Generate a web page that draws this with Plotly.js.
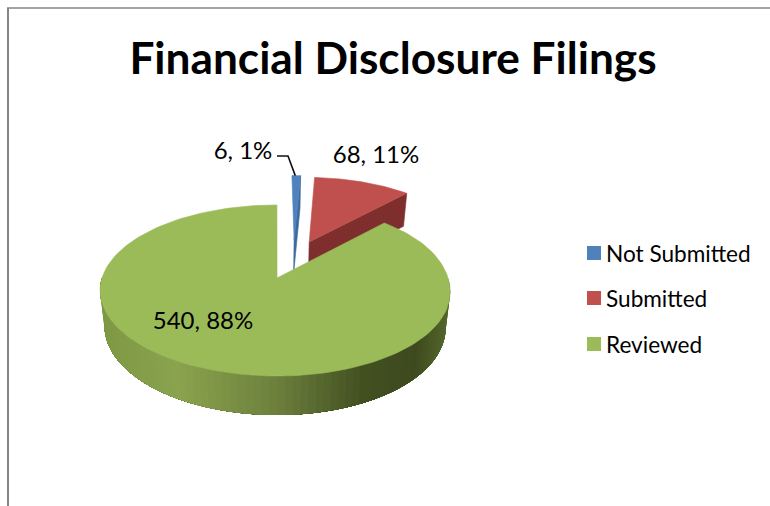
<!DOCTYPE html>
<html>
<head>
<meta charset="utf-8">
<script src="https://cdn.plot.ly/plotly-3.0.1.min.js"></script>
<style>html,body{margin:0;padding:0;background:#fff}#c{width:770px;height:506px}</style>
</head>
<body>
<div id="c"></div>
<script>
const categories = ['Not Submitted', 'Submitted', 'Reviewed'];
const filings = [6, 68, 540];
const percents = ['1%', '11%', '88%'];
const chartTitle = 'Financial Disclosure Filings';

const topColors = ['#4f81bd', '#c0504d', '#9bbb59'];
const wallColors = ['#3c6a9f', '#7e2f2d', '#6b7f3c'];
const FONT = 'Lato, Carlito, Calibri, sans-serif';

// Tilted-disc projection: unit-disc (u, v) to axis coordinates
const X0 = 276, Y0 = 278, SX = 173, SY = 83.7, PERSP = 0.146;
const skew = u => u < 0 ? 1.012 * u : u - 1.9 * Math.pow(u, 8) / SX * 1;
const project = (u, v) => [X0 + (SX * skew(u) - 0) / (1 + PERSP * v) - (u > 0 ? 1.9 * Math.pow(u, 8) : 0) + (u > 0 ? 1.9 * Math.pow(u, 8) / (1 + PERSP * v) : 0), Y0 - SY * v / (1 + PERSP * v)];
const depth = v => v < 0 ? 34.5 - 4.5 * v : 34.5 - 1.3 * v;
const lower = (u, v) => {
  const p = project(u, v);
  return [X0 + (p[0] - X0) * 0.975, p[1] + depth(v)];
};
// Exploded offset of each slice on the disc
const offsets = [[0.112, 0.49], [0.205, 0.46], [0.006, 0]];

const total = filings.reduce((a, b) => a + b, 0);
const angles = [];
let run = 0;
filings.forEach(v => { angles.push([run / total * 2 * Math.PI, (run + v) / total * 2 * Math.PI]); run += v; });

const rim = (i, t) => [offsets[i][0] + Math.sin(t), offsets[i][1] + Math.cos(t)];
function arc(i, a, b, n) {
  const out = [];
  for (let k = 0; k <= n; k++) out.push(rim(i, a + (b - a) * k / n));
  return out;
}
function poly(points, color, extra) {
  return Object.assign({
    type: 'scatter', mode: 'lines', x: points.map(p => p[0]), y: points.map(p => p[1]),
    fill: 'toself', fillcolor: color, line: {color: color, width: 0.6},
    hoverinfo: 'skip', showlegend: false
  }, extra || {});
}
function topFace(i) {
  const pts = [offsets[i]].concat(arc(i, angles[i][0], angles[i][1], 160));
  pts.push(offsets[i]);
  return poly(pts.map(p => project(p[0], p[1])), topColors[i], {
    hoverinfo: 'text',
    text: categories[i] + ': ' + filings[i] + ', ' + percents[i]
  });
}
function cutWall(i, t, color) {
  const o = offsets[i], r = rim(i, t);
  return poly([project(o[0], o[1]), project(r[0], r[1]), lower(r[0], r[1]), lower(o[0], o[1]), project(o[0], o[1])], color);
}

// Shading of the green outer wall, sampled left to right across the visible rim
const shadeStops = [[0, [126, 152, 68]], [0.22, [138, 163, 78]], [0.5, [108, 128, 60]], [0.75, [66, 80, 33]], [0.9, [62, 74, 30]], [1, [84, 104, 44]]];
function shade(f) {
  for (let k = 1; k < shadeStops.length; k++) {
    if (f <= shadeStops[k][0]) {
      const a = shadeStops[k - 1], b = shadeStops[k], m = (f - a[0]) / (b[0] - a[0]);
      return 'rgb(' + a[1].map((c, j) => Math.round(c + (b[1][j] - c) * m)).join(',') + ')';
    }
  }
  return 'rgb(84,104,44)';
}

const traces = [];
// Blue slice
traces.push(cutWall(0, angles[0][1], wallColors[0]));
traces.push(topFace(0));
// Red slice
traces.push(cutWall(1, angles[1][1], wallColors[1]));
traces.push(topFace(1));
// Green outer wall: overlapping strips, painted from right to left, so no seams show
const N = 80, A = 1.25 * Math.PI / 2 * 0.8, B = 2 * Math.PI - A;
for (let k = 0; k < N; k++) {
  const a = A + (B - A) * k / N, b = B;
  const r1 = rim(2, a);
  const pts = arc(2, a, b, 90);
  const top = pts.map(p => project(p[0], p[1]));
  const bottom = pts.slice().reverse().map(p => lower(p[0], p[1]));
  const mid = a + (B - A) / N / 2;
  const xMid = project(Math.sin(mid), Math.cos(mid))[0];
  const f = Math.min(1, Math.max(0, (xMid - 100) / 350));
  const closed = top.concat(bottom, [project(r1[0], r1[1])]);
  traces.push(poly(closed, shade(f), {mode: 'none'}));
}
// Green top face
traces.push(topFace(2));

// Leader line for the smallest slice
const blueRim = rim(0, (angles[0][0] + angles[0][1]) / 2);
const blueTop = project(blueRim[0], blueRim[1]);
traces.push({type: 'scatter', mode: 'lines', x: [277, 288, blueTop[0] - 1], y: [156, 156, blueTop[1]],
  line: {color: '#111', width: 1.6}, hoverinfo: 'skip', showlegend: false});

// Data labels
const labelX = [243, 376, 203], labelY = [153, 157, 323];
traces.push({type: 'scatter', mode: 'text', x: labelX, y: labelY,
  text: filings.map((v, i) => v + ', ' + percents[i]),
  textposition: 'middle center', textfont: {family: FONT, size: 24, color: '#000'},
  hoverinfo: 'skip', showlegend: false});

// Legend
const legendY = [253, 298, 344];
const legendTextY = legendY.map(y => y + 3);
traces.push({type: 'scatter', mode: 'markers', x: [594, 594, 594], y: legendY,
  marker: {symbol: 'square', size: 14, color: topColors}, hoverinfo: 'skip', showlegend: false});
traces.push({type: 'scatter', mode: 'text', x: [606, 606, 606], y: legendTextY, text: categories,
  textposition: 'middle right', textfont: {family: FONT, size: 22.6, color: '#000'},
  hoverinfo: 'skip', showlegend: false});

const layout = {
  width: 770, height: 506,
  margin: {l: 0, r: 0, t: 0, b: 0},
  paper_bgcolor: '#fff', plot_bgcolor: '#fff',
  showlegend: false,
  title: {text: chartTitle, x: 393 / 770, xanchor: 'center', y: 1 - 59 / 506, yanchor: 'middle',
    font: {family: FONT, size: 44.2, weight: 700, color: '#000'}},
  xaxis: {range: [0, 770], visible: false, fixedrange: true},
  yaxis: {range: [506, 0], visible: false, fixedrange: true},
  shapes: [
    {type: 'line', xref: 'x', yref: 'y', x0: 8, x1: 8, y0: 8, y1: 506, line: {color: '#868686', width: 2}},
    {type: 'line', xref: 'x', yref: 'y', x0: 7, x1: 770, y0: 8, y1: 8, line: {color: '#868686', width: 1.5}}
  ]
};
Plotly.newPlot('c', traces, layout, {displayModeBar: false});
</script>
</body>
</html>
